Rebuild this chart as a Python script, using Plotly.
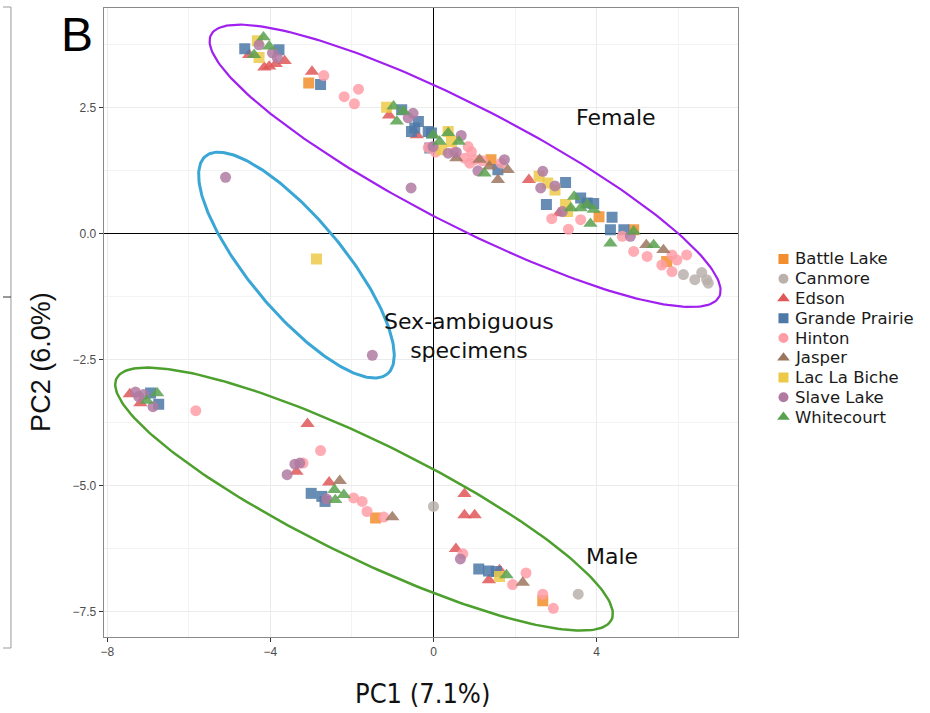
import numpy as np
import plotly.graph_objects as go

# ---------------------------------------------------------------- data
groups = ["Battle Lake", "Canmore", "Edson", "Grande Prairie", "Hinton",
          "Jasper", "Lac La Biche", "Slave Lake", "Whitecourt"]
colors = ["#F28E2B", "#BAB0AC", "#E15759", "#4E79A7", "#FF9DA7",
          "#9C755F", "#EDC948", "#B07AA1", "#59A14F"]
symbols = ["square", "circle", "triangle-up"] * 3

battle_lake_pc1 = [-3.06, 1.41, 4.06, 4.91, 5.72, -1.42, 2.68]
battle_lake_pc2 = [2.99, 1.47, 0.34, 0.08, -0.55, -5.64, -7.28]

canmore_pc1 = [6.13, 6.41, 6.58, 6.70, 6.74, 0.00, 3.55]
canmore_pc2 = [-0.81, -0.91, -0.77, -0.91, -0.98, -5.41, -7.15]

edson_pc1 = [-4.52, -4.03, -3.87, -3.65, -4.15, -2.98, -1.09, -0.41, 2.34, 3.08,
             -7.45, -7.19, -3.09, -3.36, -2.56, 0.76, 0.76, 1.01, 0.55, 1.62, 1.36]
edson_pc2 = [3.55, 3.32, 3.37, 3.43, 3.30, 3.22, 2.35, 1.96, 1.07, 0.41,
             -3.18, -3.36, -3.77, -4.72, -4.93, -5.16, -5.58, -5.58, -6.25, -6.67, -6.87]

grande_prairie_pc1 = [-4.63, -3.79, -2.77, -0.78, -0.37, -0.46, -0.54, -0.13, -0.09, -0.05,
                      1.58, 3.24, 2.77, 3.77, 3.93, 3.61, 4.38, 4.34, 4.67,
                      -6.94, -6.74, -3.00, -2.74, -2.66, 1.11, 1.35, 1.54]
grande_prairie_pc2 = [3.67, 3.65, 2.96, 2.46, 2.23, 2.10, 2.03, 2.03, 1.70, 2.00,
                      1.27, 1.02, 0.58, 0.61, 0.60, 0.71, 0.33, 0.08, 0.08,
                      -3.16, -3.38, -5.15, -5.21, -5.31, -6.65, -6.69, -6.70]

hinton_pc1 = [-2.69, -2.19, -1.84, -1.94, -0.13, 0.85, 0.93, 0.76, 1.01, 0.89, 0.50, 1.20,
              1.66, 3.31, 3.61, 4.63, 4.91, 5.24, 5.85, 5.97, 6.21, 5.60, 5.85, 0.05, 2.90,
              -5.83, -2.77, -3.20, -1.96, -1.75, -1.63, -1.22, 0.72, 1.94, 2.27, 2.68, 2.94]
hinton_pc2 = [3.14, 2.72, 2.87, 2.58, 1.71, 1.73, 1.63, 1.50, 1.47, 1.40, 1.62, 1.45,
              1.40, 0.09, 0.28, -0.05, -0.35, -0.45, -0.42, -0.52, -0.42, -0.62, -0.75, 1.62, 0.30,
              -3.51, -4.30, -4.55, -5.24, -5.31, -5.51, -5.62, -6.35, -6.96, -6.73, -7.15, -7.43]

jasper_pc1 = [0.56, 1.13, 1.37, 1.82, 1.58, 5.22, 5.64, -2.30, -1.01, 2.19]
jasper_pc2 = [1.50, 1.47, 1.34, 1.27, 1.07, -0.22, -0.32, -4.90, -5.62, -6.92]

lac_la_biche_pc1 = [-4.32, -4.28, -1.15, 0.44, 0.20, 0.36, 2.59, 2.80, 2.98, 3.24, 3.29,
                    -2.87, 1.62]
lac_la_biche_pc2 = [3.83, 3.50, 2.51, 1.83, 1.67, 2.03, 1.14, 1.01, 0.87, 0.58, 0.44,
                    -0.50, -6.80]

slave_lake_pc1 = [-4.28, -3.95, -3.83, -0.50, -0.62, -0.55, 0.68, -0.01, 0.36, 0.56, 1.74,
                  1.09, 2.68, 2.63, 2.98, 3.16, 4.83, -5.10, -1.50,
                  -7.31, -7.23, -7.11, -6.88, -3.40, -3.28, -3.59, -2.62, 0.66]
slave_lake_pc2 = [3.75, 3.59, 3.49, 2.39, 2.30, 0.91, 1.95, 1.73, 1.60, 1.62, 1.47,
                  1.25, 1.24, 0.91, 0.95, 0.44, -0.05, 1.12, -2.41,
                  -3.14, -3.23, -3.19, -3.43, -4.57, -4.55, -4.78, -5.26, -6.45]

whitecourt_pc1 = [-4.17, -4.03, -4.40, -0.98, -0.74, -0.90, -0.01, 0.15, 0.36, 0.62, 1.25,
                  3.45, 3.37, 3.61, 3.77, 3.93, 3.85, 4.91, 4.34, 5.40,
                  -6.78, -7.03, -2.43, -2.20, -2.41, 1.79]
whitecourt_pc2 = [3.90, 3.72, 3.55, 2.53, 2.43, 2.23, 1.96, 1.83, 2.00, 1.83, 1.20,
                  0.74, 0.51, 0.51, 0.58, 0.48, 0.20, 0.05, -0.19, -0.22,
                  -3.16, -3.31, -5.08, -5.18, -5.28, -6.77]

pc1 = [battle_lake_pc1, canmore_pc1, edson_pc1, grande_prairie_pc1, hinton_pc1,
       jasper_pc1, lac_la_biche_pc1, slave_lake_pc1, whitecourt_pc1]
pc2 = [battle_lake_pc2, canmore_pc2, edson_pc2, grande_prairie_pc2, hinton_pc2,
       jasper_pc2, lac_la_biche_pc2, slave_lake_pc2, whitecourt_pc2]

# grouping ellipses: centre and two conjugate semi-diameters (PC1, PC2 units)
ellipse_names = ["Female", "Sex-ambiguous", "Male"]
ellipse_colors = ["#A020F0", "#3AA6D5", "#4DA02E"]
ellipse_widths = [2.2, 3.0, 2.5]
ellipse_center = [(0.775, 1.349), (-3.362, -0.621), (-1.704, -5.264)]
ellipse_u = [(6.232, -2.599), (2.232, -2.159), (6.071, -2.393)]
ellipse_v = [(-0.661, -1.043), (-0.880, -0.599), (-0.621, -1.040)]

group_labels = [("Female", 4.47, 2.30), ("Sex-ambiguous<br>specimens", 0.86, -2.02),
                ("Male", 4.38, -6.41)]

x_ticks = [-8, -4, 0, 4]
y_ticks = [2.5, 0.0, -2.5, -5.0, -7.5]

# ---------------------------------------------------------------- figure
W, H = 930, 713
fig = go.Figure()

sizes = {"square": 11, "circle": 11, "triangle-up": 12.5}
for name, col, sym, xs, ys in zip(groups, colors, symbols, pc1, pc2):
    fig.add_trace(go.Scatter(
        x=xs, y=ys, mode="markers", name=name,
        marker=dict(symbol=sym, color=col, size=sizes[sym], opacity=0.85,
                    line=dict(width=0)),
        showlegend=False))

t = np.linspace(0, 2 * np.pi, 241)
for name, col, lw, c, u, v in zip(ellipse_names, ellipse_colors, ellipse_widths,
                                  ellipse_center, ellipse_u, ellipse_v):
    ex = c[0] + u[0] * np.cos(t) + v[0] * np.sin(t)
    ey = c[1] + u[1] * np.cos(t) + v[1] * np.sin(t)
    fig.add_trace(go.Scatter(x=ex, y=ey, mode="lines", name=name,
                             line=dict(color=col, width=lw), showlegend=False,
                             hoverinfo="skip"))

# custom key on its own hidden axes
for i, (name, col, sym) in enumerate(zip(groups, colors, symbols)):
    fig.add_trace(go.Scatter(
        x=[13], y=[i], xaxis="x2", yaxis="y2", mode="markers",
        marker=dict(symbol=sym, color=col, size=10 if sym != "triangle-up" else 11),
        showlegend=False, hoverinfo="skip"))

annotations = []
for i, name in enumerate(groups):
    annotations.append(dict(x=23, y=i, xref="x2", yref="y2", text=name,
                            showarrow=False, xanchor="left", yanchor="middle",
                            font=dict(family="DejaVu Sans", size=16.5, color="#1a1a1a")))

for txt, gx, gy in group_labels:
    annotations.append(dict(x=gx, y=gy, xref="x", yref="y", text=txt, showarrow=False,
                            xanchor="center", yanchor="middle",
                            font=dict(family="DejaVu Sans", size=22, color="#111111")))

annotations += [
    dict(x=421 / W, y=1 - 693 / H, xref="paper", yref="paper", text="PC1 (7.1%)",
         showarrow=False, xanchor="center", yanchor="middle",
         font=dict(family="Liberation Sans Narrow, DejaVu Sans Condensed, Liberation Sans",
                   size=27, color="#111111")),
    dict(x=38 / W, y=1 - 362 / H, xref="paper", yref="paper", text="PC2 (6.0%)",
         showarrow=False, xanchor="center", yanchor="middle", textangle=-90,
         font=dict(family="Liberation Sans", size=27, color="#111111")),
    dict(x=56 / W, y=1 - 35 / H, xref="paper", yref="paper", text="B",
         showarrow=False, xanchor="left", yanchor="middle",
         font=dict(family="Liberation Sans", size=48, color="#000000")),
]

# frame of the neighbouring panel at the far left
frame = dict(color="#9a9a9a", width=1)
shapes = [
    dict(type="line", xref="paper", yref="paper", x0=8 / W, x1=8 / W,
         y0=1 - 7 / H, y1=1 - 648 / H, line=frame),
    dict(type="line", xref="paper", yref="paper", x0=0, x1=8 / W,
         y0=1 - 7 / H, y1=1 - 7 / H, line=frame),
    dict(type="line", xref="paper", yref="paper", x0=0, x1=8 / W,
         y0=1 - 648 / H, y1=1 - 648 / H, line=frame),
    dict(type="line", xref="paper", yref="paper", x0=0, x1=8 / W,
         y0=1 - 297 / H, y1=1 - 297 / H, line=dict(color="#333333", width=1)),
]

tickfont = dict(family="Liberation Sans", size=12, color="#4D4D4D")
fig.update_layout(
    width=W, height=H, margin=dict(l=0, r=0, t=0, b=0),
    paper_bgcolor="white", plot_bgcolor="white", showlegend=False,
    annotations=annotations, shapes=shapes,
    xaxis=dict(domain=[101 / W, 737 / W], range=[-8.09, 7.46],
               tickvals=x_ticks, ticktext=[str(v).replace("-", "\u2212") for v in x_ticks],
               ticks="outside", ticklen=4, tickcolor="#333333", tickfont=tickfont,
               showgrid=True, gridcolor="#EBEBEB", gridwidth=1,
               minor=dict(dtick=2, tick0=0, showgrid=True, gridcolor="#F3F3F3", ticks=""),
               zeroline=True, zerolinecolor="#000000", zerolinewidth=1.4,
               showline=True, linecolor="#8a8a8a", linewidth=1, mirror=True,
               anchor="y"),
    yaxis=dict(domain=[1 - 636.5 / H, 1 - 8 / H], range=[-7.99, 4.48],
               tickvals=y_ticks, tickformat=".1f",
               ticks="outside", ticklen=4, tickcolor="#333333", tickfont=tickfont,
               showgrid=True, gridcolor="#EBEBEB", gridwidth=1,
               minor=dict(dtick=1.25, tick0=0, showgrid=True, gridcolor="#F3F3F3", ticks=""),
               zeroline=True, zerolinecolor="#000000", zerolinewidth=1.4,
               showline=True, linecolor="#8a8a8a", linewidth=1, mirror=True,
               anchor="x"),
    xaxis2=dict(domain=[770 / W, 1], range=[0, 160], visible=False, anchor="y2"),
    yaxis2=dict(domain=[1 - 427 / H, 1 - 249 / H], range=[8.5, -0.5], visible=False,
                anchor="x2"),
)

fig.write_html("out.html")
